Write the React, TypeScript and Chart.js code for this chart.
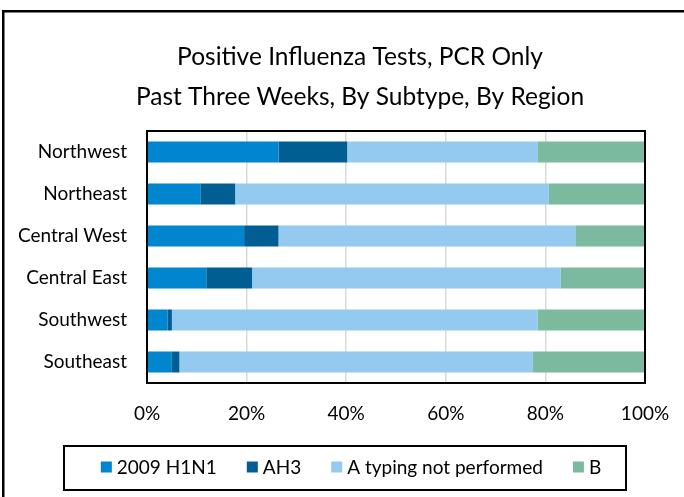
import React, { useEffect, useRef } from "react";
import { Chart, registerables } from "chart.js";

Chart.register(...registerables);

const categories = ["Northwest", "Northeast", "Central West", "Central East", "Southwest", "Southeast"];
const seriesNames = ["2009 H1N1", "AH3", "A typing not performed", "B"];
const h1n1 = [26.4, 10.7, 19.5, 11.9, 4.1, 5.0];
const ah3 = [13.8, 7.0, 6.9, 9.2, 0.9, 1.5];
const aNotTyped = [38.3, 63.0, 59.6, 62.0, 73.4, 71.0];
const typeB = [21.5, 19.3, 14.0, 16.9, 21.6, 22.5];
const seriesColors = ["#0085CE", "#005E92", "#95CAF0", "#7BBA9E"];
const titleLines = ["Positive Influenza Tests, PCR Only", "Past Three Weeks, By Subtype, By Region"];

const FONT = "Lato, 'Open Sans', sans-serif";
const CANVAS_W = 720;
const CANVAS_H = 497;

const framePlugin = {
  id: "frames",
  beforeDraw(chart: any) {
    const ctx = chart.ctx;
    ctx.save();
    ctx.fillStyle = "#ffffff";
    ctx.fillRect(0, 0, chart.width, chart.height);
    ctx.strokeStyle = "#000000";
    ctx.lineWidth = 2.5;
    ctx.strokeRect(3.25, 11.25, chart.width - 6, chart.height + 20);
    ctx.restore();
  },
  afterDatasetsDraw(chart: any) {
    const { ctx, chartArea } = chart;
    ctx.save();
    ctx.strokeStyle = "#000000";
    ctx.lineWidth = 2;
    ctx.strokeRect(chartArea.left, chartArea.top, chartArea.right - chartArea.left, chartArea.bottom - chartArea.top);
    ctx.restore();
  },
  afterDraw(chart: any) {
    const ctx = chart.ctx;
    const boxL = 64, boxR = 626, boxT = 446, boxB = 490;
    ctx.save();
    ctx.strokeStyle = "#000000";
    ctx.lineWidth = 2;
    ctx.strokeRect(boxL, boxT, boxR - boxL, boxB - boxT);
    ctx.font = `19px ${FONT}`;
    ctx.textBaseline = "middle";
    ctx.fillStyle = "#000";
    const marker = 11, mgap = 5, igap = 30;
    const ds = chart.data.datasets;
    const widths = ds.map((d: any) => ctx.measureText(d.label).width);
    const total = widths.reduce((a: number, w: number) => a + marker + mgap + w, 0) + igap * (ds.length - 1);
    let x = 351 - total / 2;
    const cy = (boxT + boxB) / 2;
    ds.forEach((d: any, i: number) => {
      ctx.fillStyle = d.backgroundColor;
      ctx.fillRect(x, cy - marker / 2 - 1, marker, marker);
      x += marker + mgap;
      ctx.fillStyle = "#000";
      ctx.fillText(d.label, x, cy);
      x += widths[i] + igap;
    });
    ctx.restore();
  },
};

export default function App() {
  const ref = useRef<HTMLCanvasElement>(null);
  useEffect(() => {
    document.body.style.margin = "0";
    document.body.style.overflow = "hidden";
    const values = [h1n1, ah3, aNotTyped, typeB];
    const chart = new Chart(ref.current!, {
      type: "bar",
      data: {
        labels: categories,
        datasets: seriesNames.map((name, i) => ({
          label: name,
          data: values[i],
          backgroundColor: seriesColors[i],
          borderWidth: 0,
          categoryPercentage: 1,
          barPercentage: 0.5,
        })),
      },
      options: {
        indexAxis: "y",
        responsive: false,
        animation: false,
        layout: { padding: { left: 0, right: 0, top: 0, bottom: 64 } },
        plugins: {
          legend: { display: false },
          tooltip: { enabled: false },
          title: {
            display: true,
            text: titleLines,
            color: "#000",
            font: { family: FONT, size: 24.5, weight: "normal", lineHeight: "40px" } as any,
            padding: { top: 37, bottom: 14 },
          },
        },
        scales: {
          x: {
            stacked: true,
            min: 0,
            max: 100,
            ticks: {
              stepSize: 20,
              color: "#000",
              padding: 19,
              font: { family: FONT, size: 19 },
              callback: (v: any) => v + "%",
            },
            grid: { color: "#d9d9d9", lineWidth: 1.5, drawTicks: false },
            border: { display: false },
            afterFit: (s: any) => { s.height = 50; s.paddingLeft = 0; s.paddingRight = CANVAS_W - 645; },
          },
          y: {
            stacked: true,
            ticks: { color: "#000", padding: 20, font: { family: FONT, size: 19 } },
            grid: { display: false, drawTicks: false },
            border: { display: false },
            afterFit: (s: any) => { s.width = 147; },
          },
        },
      },
      plugins: [framePlugin],
    });
    return () => chart.destroy();
  }, []);
  return (
    <div style={{ width: 684, height: 497, overflow: "hidden" }}>
      <canvas ref={ref} width={CANVAS_W} height={CANVAS_H} style={{ display: "block" }} />
    </div>
  );
}
